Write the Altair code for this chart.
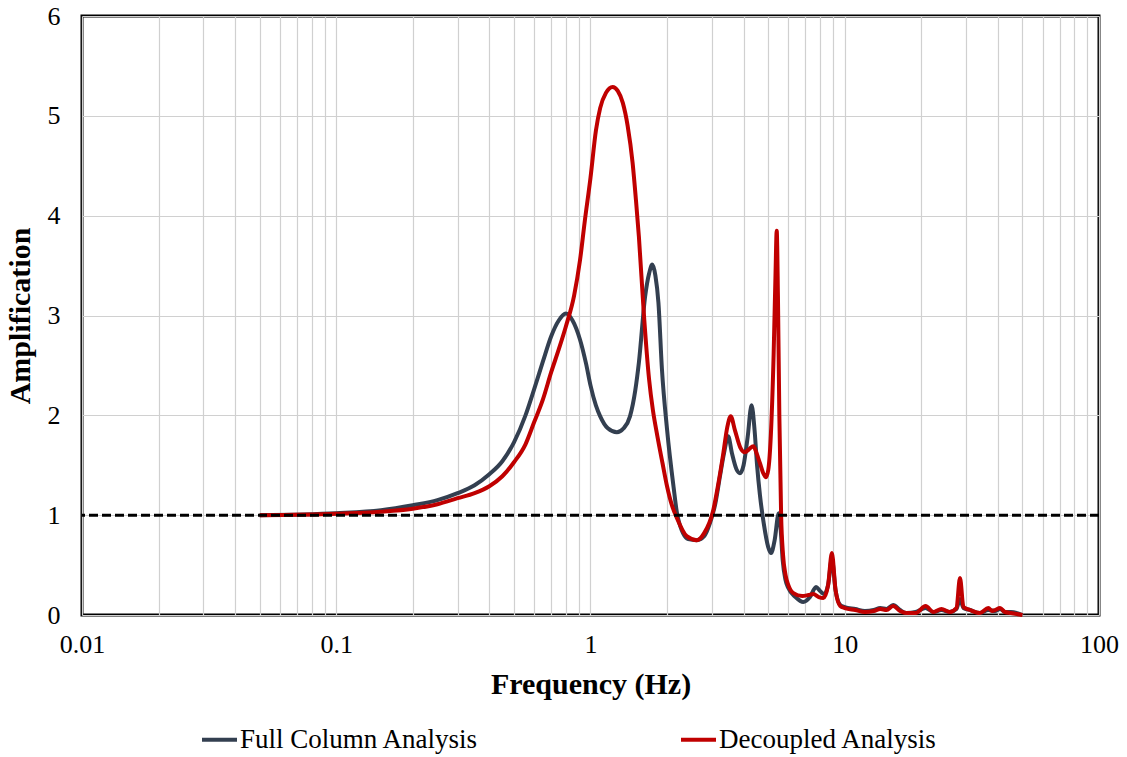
import altair as alt
import pandas as pd

# Full Column Analysis
full_freq = [0.05, 0.1, 0.15, 0.2, 0.25, 0.3, 0.35, 0.4, 0.45, 0.5, 0.555, 0.6, 0.65, 0.7, 0.75,
             0.8, 0.85, 0.909, 0.96, 1.0, 1.05, 1.092, 1.17, 1.27, 1.35, 1.43, 1.5, 1.55, 1.64,
             1.70, 1.75, 1.80, 1.85, 1.91, 2.0, 2.12, 2.20, 2.42, 2.62, 2.8, 2.95,
             3.1, 3.23, 3.35, 3.48, 3.6, 3.75, 3.87, 4.0, 4.15, 4.3, 4.42, 4.52, 4.64, 4.8,
             5.0, 5.13, 5.3, 5.5, 5.6, 5.7, 5.85, 6.0, 6.4, 6.87, 7.3, 7.71, 8.0, 8.3, 8.6,
             8.9, 9.2, 9.6, 10, 11, 12, 13, 13.8, 14.6, 15.5, 16.5, 17.5, 19, 20.8, 22.3, 24,
             25.9, 27.5, 28.4, 29.3, 31.1, 34, 36.7, 39, 40.8, 42.7, 45, 50]
full_amp = [1.00, 1.02, 1.05, 1.10, 1.15, 1.22, 1.30, 1.41, 1.54, 1.73, 2.00, 2.26, 2.54, 2.79, 2.95,
            3.02, 2.95, 2.76, 2.52, 2.30, 2.10, 1.99, 1.87, 1.83, 1.87, 1.99, 2.25, 2.53, 3.19,
            3.42, 3.51, 3.40, 3.13, 2.46, 1.86, 1.29, 0.99, 0.76, 0.75, 0.79, 0.92,
            1.12, 1.39, 1.62, 1.79, 1.62, 1.46, 1.42, 1.50, 1.78, 2.10, 1.85, 1.50, 1.20, 0.92,
            0.68, 0.62, 0.75, 1.02, 0.85, 0.55, 0.35, 0.27, 0.18, 0.13, 0.18, 0.28, 0.24, 0.21, 0.30,
            0.56, 0.25, 0.10, 0.08, 0.06, 0.04, 0.05, 0.07, 0.06, 0.10, 0.05, 0.02, 0.03, 0.07, 0.03, 0.05,
            0.03, 0.06, 0.16, 0.07, 0.05, 0.02, 0.05, 0.04, 0.06, 0.03, 0.03, 0.00]

# Decoupled Analysis
dec_freq = [0.05, 0.1, 0.15, 0.2, 0.25, 0.3, 0.35, 0.4, 0.45, 0.5, 0.555, 0.6, 0.65, 0.7, 0.75,
            0.8, 0.862, 0.909, 0.95, 1.0, 1.05, 1.092, 1.15, 1.222, 1.28, 1.34, 1.40, 1.464,
            1.51, 1.55, 1.62, 1.70, 1.76, 1.83, 1.92, 2.0, 2.09, 2.18, 2.39, 2.62, 2.8, 3.04,
            3.2, 3.33, 3.45, 3.56, 3.7, 3.88, 4.05, 4.2, 4.37, 4.5, 4.64, 4.78, 4.9, 5.0, 5.12,
            5.25, 5.34, 5.40, 5.46, 5.53, 5.62, 5.72, 5.85, 6.0, 6.28, 6.8, 7.2, 7.52, 7.9, 8.24,
            8.6, 8.9, 9.2, 9.6, 10, 11, 12, 13, 13.8, 14.6, 15.5, 16.5, 17.5, 19, 20.8, 22.3, 24,
            25.9, 27.5, 28.4, 29.3, 31.1, 34, 36.7, 38, 39, 40.8, 42.7, 45, 50]
dec_amp = [1.00, 1.015, 1.035, 1.065, 1.11, 1.17, 1.22, 1.29, 1.39, 1.53, 1.71, 1.93, 2.16, 2.43, 2.66,
           2.89, 3.20, 3.55, 3.95, 4.38, 4.85, 5.08, 5.23, 5.29, 5.25, 5.13, 4.90, 4.53,
           4.15, 3.79, 3.03, 2.36, 2.05, 1.80, 1.52, 1.29, 1.10, 0.98, 0.79, 0.75, 0.82, 1.05,
           1.35, 1.62, 1.88, 1.99, 1.85, 1.68, 1.63, 1.66, 1.69, 1.62, 1.52, 1.42, 1.38, 1.45, 1.80,
           2.60, 3.40, 3.85, 3.20, 2.00, 1.00, 0.60, 0.40, 0.30, 0.22, 0.19, 0.20, 0.21, 0.18, 0.17,
           0.30, 0.62, 0.25, 0.09, 0.07, 0.05, 0.03, 0.04, 0.06, 0.05, 0.09, 0.04, 0.02, 0.02, 0.09, 0.03, 0.06,
           0.03, 0.07, 0.37, 0.08, 0.05, 0.02, 0.07, 0.04, 0.05, 0.07, 0.03, 0.02, 0.00]

series_names = ["Full Column Analysis", "Decoupled Analysis"]
series_colors = ["#333F50", "#C00000"]
reference_level = [1.0]

x_grid_values = [0.01, 0.02, 0.03, 0.04, 0.05, 0.06, 0.07, 0.08, 0.09,
                 0.1, 0.2, 0.3, 0.4, 0.5, 0.6, 0.7, 0.8, 0.9,
                 1, 2, 3, 4, 5, 6, 7, 8, 9,
                 10, 20, 30, 40, 50, 60, 70, 80, 90, 100]
y_values = [0, 1, 2, 3, 4, 5, 6]

df_full = pd.DataFrame({"f": full_freq, "a": full_amp, "s": series_names[0]})
df_dec = pd.DataFrame({"f": dec_freq, "a": dec_amp, "s": series_names[1]})
df_ref = pd.DataFrame({"y": reference_level})

FONT = "Liberation Serif"

x_enc = alt.X("f:Q",
              scale=alt.Scale(type="log", domain=[0.01, 100]),
              axis=alt.Axis(values=x_grid_values, title="Frequency (Hz)",
                            labelExpr="abs(log(datum.value)/LN10 - round(log(datum.value)/LN10)) < 1e-6 ? format(datum.value, '~g') : ''",
                            grid=True, ticks=False, domain=False, labelFlush=False,
                            labelOverlap=False, labelPadding=16, titlePadding=12))
y_enc = alt.Y("a:Q",
              scale=alt.Scale(domain=[0, 6], nice=False),
              axis=alt.Axis(values=y_values, format="d", title="Amplification", grid=True, ticks=False,
                            domain=False, labelFlush=False, labelPadding=22, titlePadding=12))
color_enc = alt.Color("s:N",
                      scale=alt.Scale(domain=series_names, range=series_colors),
                      legend=alt.Legend(title=None, orient="none", legendX=118, legendY=704,
                                        direction="horizontal", columns=2, columnPadding=194,
                                        symbolType="stroke", symbolStrokeWidth=4,
                                        symbolSize=1225, labelFont=FONT, labelFontSize=27,
                                        labelColor="black", labelOffset=1, labelLimit=0))

full_line = alt.Chart(df_full).mark_line(strokeWidth=4, interpolate="monotone").encode(
    x=x_enc, y=y_enc, color=color_enc, order="f:Q")
dec_line = alt.Chart(df_dec).mark_line(strokeWidth=4, interpolate="monotone").encode(
    x=x_enc, y=y_enc, color=color_enc, order="f:Q")
ref_line = alt.Chart(df_ref).mark_rule(color="black", strokeWidth=3, strokeDash=[9, 4]).encode(
    y=alt.Y("y:Q"))

chart = alt.layer(full_line, dec_line, ref_line).properties(
    width=1017, height=599,
    background="white",
    autosize=alt.AutoSizeParams(type="none"),
    padding={"left": 82, "top": 16, "right": 28, "bottom": 142},
).configure_view(
    stroke="black", strokeWidth=3
).configure_axis(
    labelFont=FONT, labelFontSize=26, labelColor="black",
    titleFont=FONT, titleFontSize=30, titleFontWeight="bold", titleColor="black",
    gridColor="#D0D0D0", gridWidth=1.2
)

chart.save("out.html", embed_options={"renderer": "svg", "actions": False})
